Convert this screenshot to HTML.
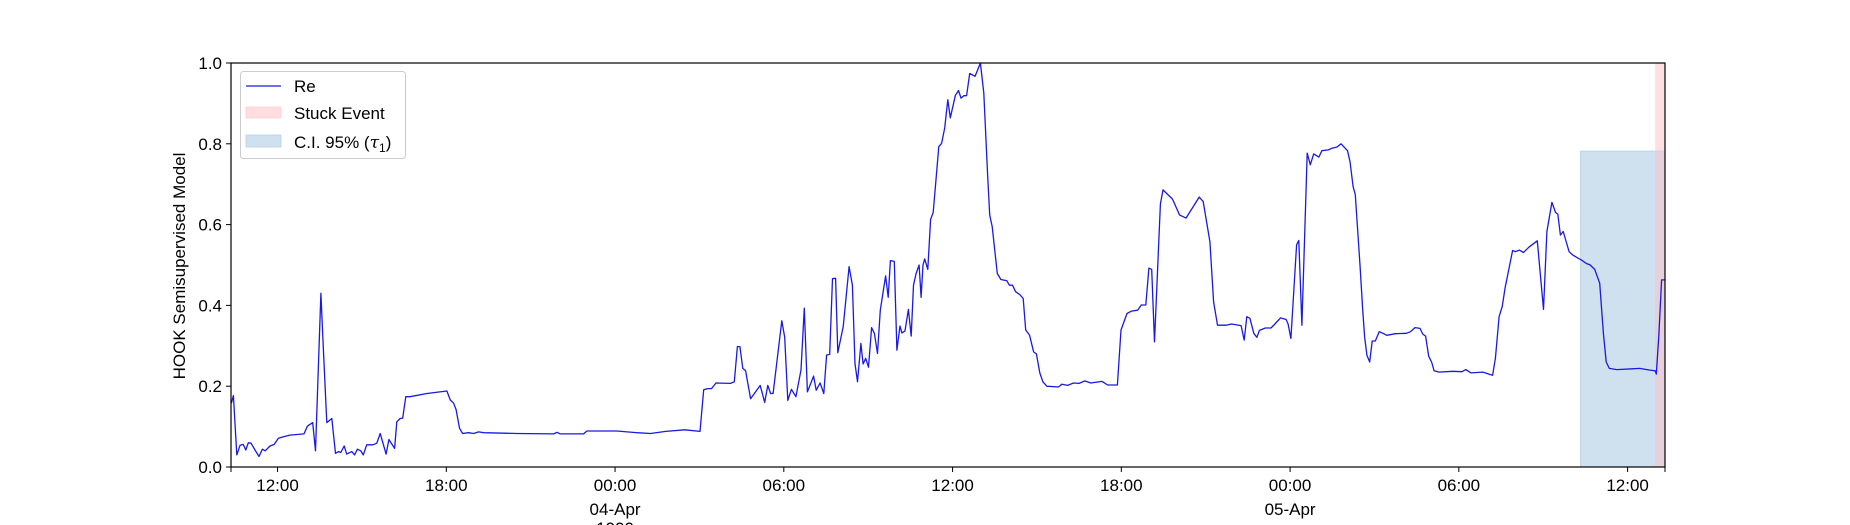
<!DOCTYPE html>
<html><head><meta charset="utf-8"><style>
html,body{margin:0;padding:0;background:#fff;}
svg{display:block;font-family:"Liberation Sans","DejaVu Sans",sans-serif;}
</style></head><body>
<svg id="chart" width="1850" height="525" viewBox="0 0 1850 525" xmlns="http://www.w3.org/2000/svg">
<g id="bands"></g>
<g id="plot"></g>
<g id="axes"></g>
<text transform="translate(185,266) rotate(-90)" text-anchor="middle" font-size="17" fill="#000">HOOK Semisupervised Model</text>
<g>
<rect x="240.5" y="71.5" width="165" height="87" rx="3" fill="#fff" fill-opacity="0.8" stroke="#ccc" stroke-width="1"/>
<line x1="246" y1="86" x2="281" y2="86" stroke="#1a1adf" stroke-width="1.3"/>
<text x="294" y="92" font-size="17">Re</text>
<rect x="246" y="107" width="35" height="11" fill="#ffdde0" stroke="#ffcdd2" stroke-width="0.8"/>
<text x="294" y="119" font-size="17">Stuck Event</text>
<rect x="246" y="135" width="35" height="12" fill="#cfe1ee" stroke="#b5cfe2" stroke-width="0.8"/>
<text x="294" y="148" font-size="17">C.I. 95% (<tspan font-style="italic" font-family="DejaVu Serif, serif">τ</tspan><tspan font-size="12" dy="4">1</tspan><tspan dy="-4">)</tspan></text>
</g>
</svg>
<script>
const hours = [10.36,10.43,10.55,10.67,10.78,10.87,10.96,11.06,11.20,11.34,11.46,11.56,11.73,11.88,12.03,12.21,12.44,12.94,13.06,13.25,13.35,13.54,13.63,13.75,13.93,14.06,14.17,14.25,14.37,14.46,14.64,14.74,14.84,14.96,15.05,15.17,15.39,15.53,15.65,15.86,15.96,16.16,16.24,16.36,16.45,16.56,16.71,17.31,18.02,18.14,18.26,18.35,18.47,18.58,18.79,18.97,19.15,19.33,20.51,21.82,21.94,22.05,22.88,23.00,24.07,24.78,25.26,25.8,26.48,27.02,27.15,27.29,27.43,27.59,28.10,28.24,28.35,28.44,28.54,28.64,28.82,29.16,29.32,29.43,29.53,29.62,29.93,30.03,30.14,30.27,30.43,30.61,30.73,30.84,31.06,31.15,31.29,31.42,31.52,31.63,31.73,31.84,31.92,32.11,32.32,32.44,32.53,32.62,32.74,32.82,32.91,33.01,33.12,33.22,33.33,33.43,33.62,33.71,33.79,33.93,34.02,34.13,34.20,34.31,34.43,34.53,34.61,34.70,34.81,34.88,34.95,35.01,35.12,35.22,35.31,35.51,35.61,35.72,35.83,35.92,36.10,36.21,36.30,36.40,36.50,36.61,36.80,36.99,37.11,37.25,37.32,37.41,37.59,37.72,37.93,38.02,38.13,38.24,38.40,38.51,38.60,38.74,38.88,38.98,39.10,39.21,39.35,39.76,39.89,40.09,40.30,40.50,40.70,40.91,41.31,41.52,41.86,41.99,42.20,42.36,42.58,42.71,42.87,42.98,43.08,43.18,43.39,43.48,43.82,44.07,44.30,44.77,44.91,45.15,45.28,45.42,45.72,45.92,46.26,46.37,46.46,46.57,46.71,46.82,46.91,47.12,47.32,47.46,47.66,47.86,47.93,48.03,48.23,48.31,48.42,48.61,48.72,48.84,49.02,49.13,49.36,49.49,49.67,49.81,50.04,50.13,50.24,50.32,50.49,50.58,50.65,50.73,50.83,50.92,51.03,51.17,51.30,51.44,51.74,52.14,52.28,52.44,52.62,52.72,52.82,52.93,53.03,53.12,53.30,53.77,54.11,54.25,54.43,54.86,55.07,55.20,55.30,55.43,55.54,55.65,55.70,55.91,56.01,56.15,56.30,56.49,56.79,57.01,57.13,57.31,57.44,57.52,57.61,57.71,57.92,58.05,58.23,58.37,58.53,58.67,58.83,59.01,59.14,59.24,59.35,59.62,60.16,60.43,60.77,60.98,61.02,61.11,61.21,61.32];
const reValues = [0.158,0.177,0.030,0.054,0.056,0.042,0.060,0.059,0.042,0.026,0.044,0.040,0.052,0.056,0.071,0.075,0.079,0.082,0.101,0.110,0.040,0.430,0.290,0.110,0.120,0.034,0.038,0.036,0.052,0.032,0.038,0.030,0.044,0.040,0.030,0.055,0.055,0.059,0.083,0.032,0.068,0.046,0.112,0.120,0.121,0.174,0.174,0.182,0.188,0.166,0.158,0.142,0.096,0.083,0.085,0.083,0.087,0.085,0.083,0.082,0.086,0.082,0.082,0.089,0.089,0.085,0.083,0.088,0.092,0.088,0.191,0.194,0.194,0.208,0.207,0.211,0.298,0.298,0.244,0.238,0.169,0.202,0.160,0.202,0.182,0.182,0.362,0.321,0.165,0.192,0.174,0.240,0.393,0.186,0.225,0.190,0.208,0.182,0.277,0.279,0.466,0.467,0.283,0.347,0.496,0.450,0.256,0.211,0.306,0.255,0.269,0.247,0.345,0.331,0.281,0.388,0.473,0.420,0.511,0.509,0.289,0.349,0.332,0.337,0.390,0.324,0.450,0.478,0.500,0.420,0.500,0.515,0.489,0.613,0.630,0.793,0.801,0.839,0.909,0.864,0.920,0.932,0.913,0.919,0.919,0.974,0.967,1.000,0.926,0.719,0.624,0.595,0.479,0.464,0.461,0.450,0.450,0.434,0.426,0.417,0.339,0.326,0.285,0.280,0.233,0.211,0.200,0.198,0.205,0.202,0.208,0.207,0.213,0.208,0.212,0.203,0.203,0.339,0.380,0.386,0.388,0.401,0.401,0.492,0.489,0.310,0.651,0.686,0.663,0.624,0.616,0.668,0.657,0.558,0.409,0.351,0.351,0.354,0.350,0.314,0.372,0.368,0.331,0.321,0.338,0.344,0.344,0.354,0.369,0.365,0.354,0.318,0.550,0.561,0.351,0.777,0.748,0.775,0.767,0.783,0.785,0.789,0.792,0.800,0.783,0.756,0.694,0.674,0.496,0.393,0.322,0.277,0.260,0.312,0.312,0.335,0.331,0.326,0.330,0.331,0.335,0.345,0.343,0.329,0.324,0.274,0.260,0.238,0.235,0.237,0.236,0.241,0.233,0.235,0.230,0.227,0.269,0.372,0.397,0.445,0.463,0.536,0.533,0.537,0.531,0.544,0.560,0.390,0.583,0.655,0.630,0.626,0.574,0.583,0.533,0.525,0.517,0.512,0.504,0.500,0.489,0.455,0.331,0.260,0.244,0.241,0.243,0.244,0.240,0.238,0.230,0.324,0.463,0.463];
const xTickHours = [12,18,24,30,36,42,48,54,60];
const xTickLabels = ["12:00","18:00","00:00","06:00","12:00","18:00","00:00","06:00","12:00"];
const xTickSub = ["","","04-Apr","","","","05-Apr","",""];
const xTickSub2 = ["","","1900","","","","","",""];
const yTicks = [0,0.2,0.4,0.6,0.8,1.0];
const yTickLabels = ["0.0","0.2","0.4","0.6","0.8","1.0"];
const ciBand = [58.33, 61.33, 0.782];
const stuckBand = [60.98, 61.33];

const X0=231, X1=1665, Y0=467, Y1=63, H0=10.345, H1=61.33;
function xs(h){return X0+(h-H0)/(H1-H0)*(X1-X0);}
function ys(v){return Y0-(v)*(Y0-Y1);}
const NS="http://www.w3.org/2000/svg";
function mk(tag,attrs,parent){const e=document.createElementNS(NS,tag);for(const k in attrs)e.setAttribute(k,attrs[k]);parent.appendChild(e);return e;}
const bands=document.getElementById('bands'), plot=document.getElementById('plot'), axes=document.getElementById('axes');

let ci=mk('rect',{x:xs(ciBand[0]),y:ys(ciBand[2]),width:Math.min(xs(ciBand[1]),X1)-xs(ciBand[0]),height:Y0-ys(ciBand[2]),fill:'#cfe1ee',stroke:'#b5cfe2','stroke-width':0.8},bands);


let st=mk('rect',{x:xs(stuckBand[0]),y:Y1,width:Math.min(xs(stuckBand[1]),X1)-xs(stuckBand[0]),height:Y0-Y1,fill:'#ffc0c8','fill-opacity':0.5},bands);



let d=hours.map((h,i)=>(i?'L':'M')+xs(h).toFixed(1)+','+ys(reValues[i]).toFixed(1)).join('');
let ln=mk('path',{d:d,fill:'none',stroke:'#1a1adf','stroke-width':1.3,'stroke-linejoin':'round'},plot);



let fr=mk('rect',{x:X0,y:Y1,width:X1-X0,height:Y0-Y1,fill:'none',stroke:'#000','stroke-width':1.2},axes);



xTickHours.forEach((h,i)=>{
  const x=xs(h);
  let t=mk('line',{x1:x,y1:Y0,x2:x,y2:Y0+5,stroke:'#000','stroke-width':1},axes);
  
  
  let l=mk('text',{x:x,y:Y0+24,'text-anchor':'middle','font-size':17},axes);
  l.textContent=xTickLabels[i];
  
  
  if(xTickSub[i]){let s=mk('text',{x:x,y:Y0+48,'text-anchor':'middle','font-size':17},axes);s.textContent=xTickSub[i];
  
  }
  if(xTickSub2[i]){let s=mk('text',{x:x,y:Y0+67,'text-anchor':'middle','font-size':17},axes);s.textContent=xTickSub2[i];
  
  }
});
[H0,H1].forEach(h=>{let t=mk('line',{x1:xs(h),y1:Y0,x2:xs(h),y2:Y0+5,stroke:'#000','stroke-width':1},axes);

});
yTicks.forEach((v,i)=>{
  const y=ys(v);
  let t=mk('line',{x1:X0-5,y1:y,x2:X0,y2:y,stroke:'#000','stroke-width':1},axes);
  
  
  let l=mk('text',{x:X0-9,y:y+6,'text-anchor':'end','font-size':17},axes);
  l.textContent=yTickLabels[i];
  
  
});
</script>
</body></html>
